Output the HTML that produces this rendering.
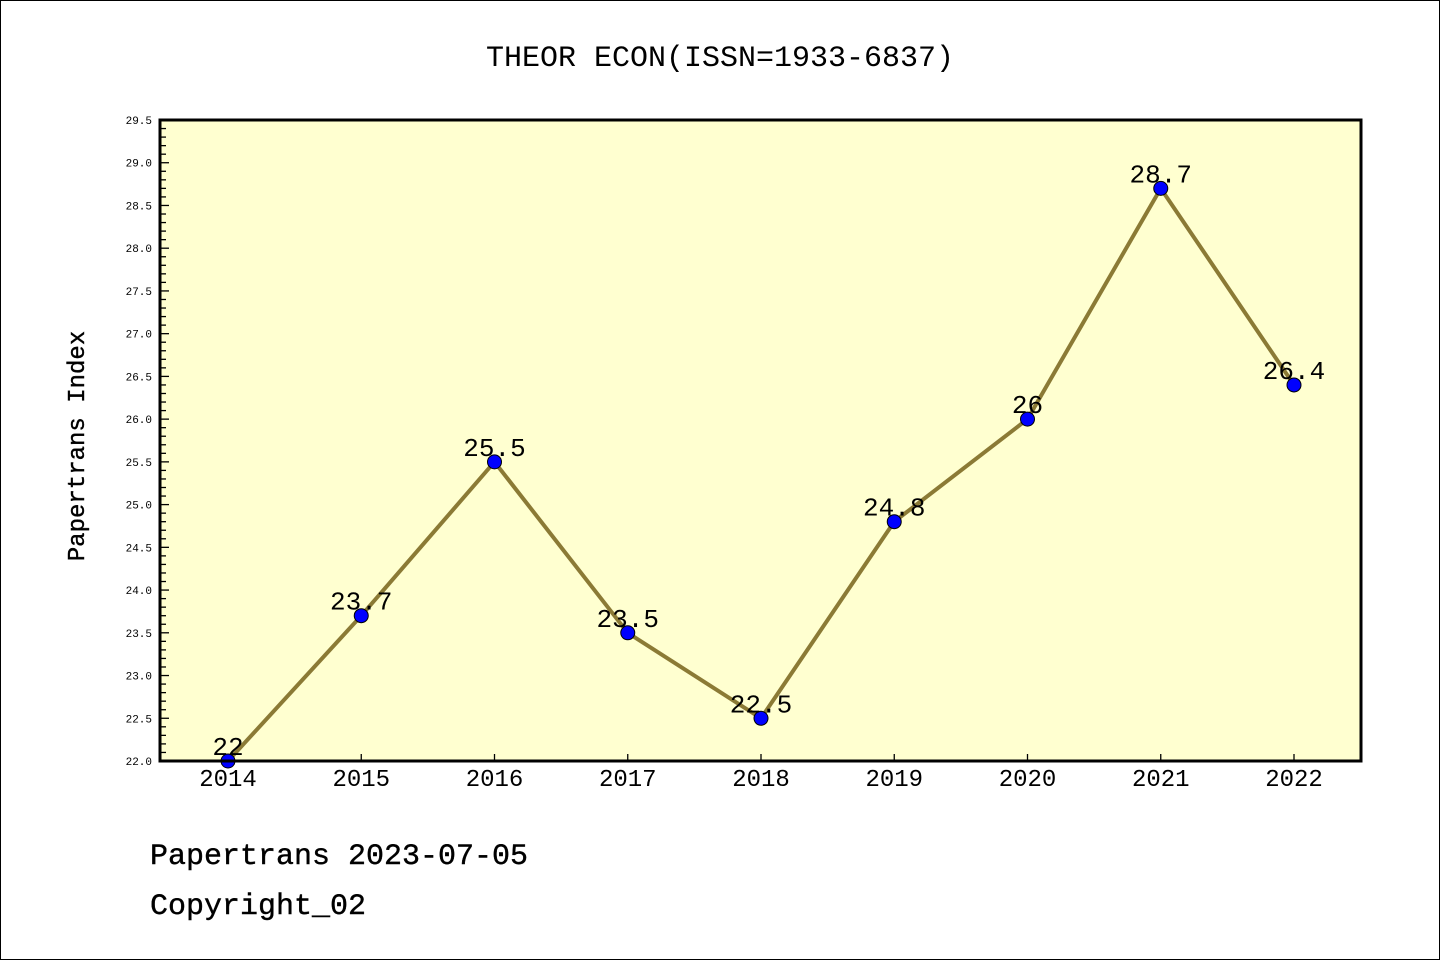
<!DOCTYPE html>
<html><head><meta charset="utf-8"><style>
body{margin:0;background:#fff}
svg{display:block}
text{font-family:"Liberation Mono","DejaVu Sans Mono",monospace}
</style></head><body>
<svg id="chart" width="1440" height="960" xmlns="http://www.w3.org/2000/svg">
<rect x="0.5" y="0.5" width="1439" height="959" fill="#fff" stroke="#000"/>
<text x="720" y="66" font-size="30" text-anchor="middle">THEOR ECON(ISSN=1933-6837)</text>
<rect x="160" y="120" width="1201" height="641" fill="#ffffd0"/>
<g id="axes"></g>
<g id="series"></g>
<rect x="160" y="120" width="1201" height="641" fill="none" stroke="#000" stroke-width="3"/>
<text transform="translate(84,446) rotate(-90)" font-size="24" text-anchor="middle" stroke="#000" stroke-width="0.4">Papertrans Index</text>
<text x="150" y="864" font-size="30" stroke="#000" stroke-width="0.4">Papertrans 2023-07-05</text>
<text x="150" y="914" font-size="30" stroke="#000" stroke-width="0.4">Copyright_02</text>
</svg>
<script>
const years=[2014,2015,2016,2017,2018,2019,2020,2021,2022];
const values=[22,23.7,25.5,23.5,22.5,24.8,26,28.7,26.4];
const labels=["22","23.7","25.5","23.5","22.5","24.8","26","28.7","26.4"];
const yTicks=["22.0","22.5","23.0","23.5","24.0","24.5","25.0","25.5","26.0","26.5","27.0","27.5","28.0","28.5","29.0","29.5"];
const NS="http://www.w3.org/2000/svg";
const yMin=22,yMax=29.5,plotTop=120,plotBot=761;
const yScale=v=>plotBot-(v-yMin)/(yMax-yMin)*(plotBot-plotTop);
const xScale=i=>228+i*(1294-228)/(years.length-1);
function mk(t,a,p){const e=document.createElementNS(NS,t);for(const k in a)e.setAttribute(k,a[k]);p.appendChild(e);return e;}
const axG=document.getElementById('axes'),seG=document.getElementById('series');
for(let k=0;k<=75;k++){const v=yMin+k*0.1,yy=yScale(v);const major=k%5===0;
 const l=mk('line',{x1:160,x2:160+(major?9:6),y1:yy,y2:yy,stroke:'#000','stroke-width':1.3},axG);
 
 }
yTicks.forEach(s=>{const t=mk('text',{x:152,y:yScale(parseFloat(s))+4,'font-size':11,'text-anchor':'end','font-family':'DejaVu Sans, sans-serif'},axG);t.textContent=s;
 
 });
years.forEach((yr,i)=>{const l=mk('line',{x1:xScale(i),x2:xScale(i),y1:plotBot,y2:plotBot-7,stroke:'#000','stroke-width':1.3},axG);
 
 
 const t=mk('text',{x:xScale(i),y:786,'font-size':24,'text-anchor':'middle','font-family':'DejaVu Sans, sans-serif'},axG);t.textContent=yr;
 
 });
const pl=mk('polyline',{points:values.map((v,i)=>xScale(i)+','+yScale(v)).join(' '),fill:'none',stroke:'#8b7a35','stroke-width':4},seG);


values.forEach((v,i)=>{const c=mk('circle',{cx:xScale(i),cy:yScale(v),r:7,fill:'#0000ff',stroke:'#000','stroke-width':1},seG);
 
 
 const t=mk('text',{x:xScale(i),y:yScale(v)-6,'font-size':26,'text-anchor':'middle'},seG);t.textContent=labels[i];
 
 });
</script>
</body></html>
